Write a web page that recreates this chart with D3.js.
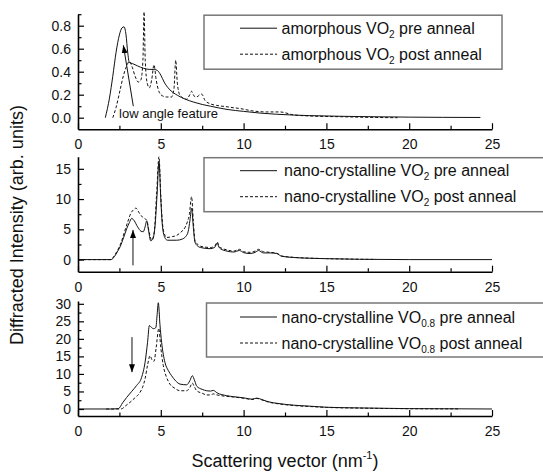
<!DOCTYPE html>
<html>
<head>
<meta charset="utf-8">
<script src="https://cdn.jsdelivr.net/npm/d3@7"></script>
<style>
  body { margin: 0; background: #fff; }
  svg { display: block; font-family: "Liberation Sans", Arial, sans-serif; }
</style>
</head>
<body>
<svg id="chart" width="543" height="473"></svg>
<script>
// scattering vector (nm^-1) vs intensity
var amorphPre = [[1.65,0],[1.9,0.17],[2.1,0.36],[2.3,0.57],[2.5,0.72],[2.65,0.78],[2.78,0.79],[2.9,0.72],[3.0,0.57],[3.1,0.48],
  [3.3,0.47],[3.6,0.45],[3.95,0.43],[4.3,0.42],[4.6,0.42],[4.8,0.41],[5.0,0.37],[5.2,0.31],[5.5,0.25],[6.0,0.195],[6.5,0.16],
  [7.0,0.135],[7.5,0.115],[8.0,0.1],[9.0,0.072],[10.0,0.055],[11.0,0.04],[12.0,0.03],[14.0,0.018],[16,0.012],[18,0.008],
  [20,0.005],[22,0.003],[24.3,0.002]]
var amorphPost = [[2.1,0],[2.3,0.09],[2.54,0.24],[2.75,0.37],[2.94,0.45],[3.1,0.49],[3.25,0.45],[3.45,0.36],[3.64,0.31],[3.8,0.33],
  [3.92,0.5],[3.99,0.92],[4.06,0.5],[4.18,0.3],[4.31,0.26],[4.45,0.33],[4.59,0.46],[4.72,0.33],[4.91,0.22],[5.1,0.19],[5.35,0.18],
  [5.65,0.18],[5.8,0.26],[5.9,0.5],[6.0,0.3],[6.16,0.195],[6.56,0.16],[6.75,0.2],[6.86,0.23],[7.0,0.19],[7.17,0.18],[7.35,0.2],
  [7.47,0.205],[7.67,0.15],[8.0,0.12],[8.37,0.107],[9.0,0.095],[9.37,0.087],[9.77,0.08],[10.5,0.06],[11.4,0.05],[12.2,0.05],
  [13,0.025],[14,0.015],[16,0.008],[18,0.002],[19.3,0]]
var nanoPre = [[0,0],[2.0,0],[2.2,0.5],[2.4,1.4],[2.54,2.1],[2.75,3.6],[2.94,5.1],[3.1,6.1],[3.24,6.8],[3.4,6.4],[3.6,5.4],[3.8,4.7],
  [3.94,4.6],[4.05,5.4],[4.15,6.4],[4.25,5.0],[4.39,3.1],[4.5,3.3],[4.65,5.5],[4.78,11],[4.89,16.2],[5.0,10],[5.1,5.5],[5.25,3.6],
  [5.4,3.2],[5.96,3.2],[6.3,3.4],[6.5,3.8],[6.65,4.6],[6.76,6.5],[6.86,8.5],[6.96,5.5],[7.06,2.9],[7.2,2.3],[7.4,2.0],[7.97,1.8],
  [8.25,2.0],[8.41,2.75],[8.5,2.1],[8.6,1.8],[9.0,1.4],[9.4,1.25],[9.75,1.5],[10.0,1.15],[10.4,1.0],[10.7,1.2],[10.9,1.5],
  [11.2,1.1],[11.6,1.1],[12.0,1.0],[12.3,0.55],[13.0,0.35],[14.0,0.22],[15,0.15],[17,0.05],[20,0],[25,0]]
var nanoPost = [[0,0],[2.0,0],[2.13,0.4],[2.4,1.6],[2.6,2.8],[2.8,4.5],[3.0,6.2],[3.2,7.7],[3.34,8.2],[3.5,8.5],[3.7,7.7],[3.9,7.0],
  [4.15,6.5],[4.3,4.5],[4.45,3.2],[4.6,4.5],[4.75,11],[4.89,17.0],[5.0,10.5],[5.1,6],[5.25,4.0],[5.35,3.65],[5.7,3.8],[5.96,4.0],
  [6.2,4.5],[6.46,5.3],[6.6,6.2],[6.72,7.4],[6.86,10.4],[6.96,6.5],[7.06,3.2],[7.17,2.7],[7.4,2.2],[8.0,2.0],[8.25,2.2],[8.41,2.9],
  [8.5,2.3],[8.6,2.0],[9.0,1.6],[9.4,1.4],[9.75,1.7],[10.0,1.3],[10.4,1.2],[10.7,1.4],[10.9,1.7],[11.2,1.3],[11.6,1.2],[12.0,1.05],
  [12.3,0.6],[13,0.38],[14,0.24],[15,0.16],[17,0.06],[18,0.03]]
var subPre = [[0,0],[2.1,0],[2.44,0.1],[2.7,1.8],[2.94,3.3],[3.24,5.0],[3.54,6.7],[3.84,9.0],[4.05,13.3],[4.2,19],[4.31,23.8],
  [4.45,23.2],[4.55,22.9],[4.7,23.2],[4.78,27],[4.85,30.3],[4.95,24],[5.05,19],[5.25,13.3],[5.45,11],[5.65,9.5],[5.9,8.0],[6.16,7.1],
  [6.56,6.9],[6.76,8.1],[6.9,9.5],[7.05,8.0],[7.17,6.5],[7.5,5.6],[7.77,5.2],[8.0,5.1],[8.17,5.3],[8.4,4.6],[8.98,3.8],[9.4,3.5],
  [9.78,3.3],[10.1,3.1],[10.5,2.8],[10.8,3.1],[11.1,2.7],[11.4,2.2],[12.2,1.5],[13,1.1],[14,0.8],[15,0.5],[17,0.3],[20,0.1],
  [23,0.05],[25,0]]
var subPost = [[1.7,0],[2.6,0],[2.9,1.0],[3.14,1.9],[3.44,3.2],[3.74,4.7],[3.9,6.2],[4.05,8.6],[4.2,12.5],[4.35,15.2],[4.47,14.0],
  [4.59,13.6],[4.72,17.5],[4.88,23.0],[5.0,17.5],[5.15,12.4],[5.35,9.0],[5.55,7.1],[5.85,5.9],[6.16,5.2],[6.56,5.2],[6.76,6.2],
  [6.9,7.4],[7.03,6.3],[7.17,5.2],[7.5,4.5],[7.77,4.0],[8.0,4.0],[8.17,4.3],[8.4,4.0],[8.98,3.6],[9.4,3.4],[9.78,3.2],[10.1,3.0],
  [10.5,2.7],[10.8,3.0],[11.1,2.6],[11.4,2.1],[12.2,1.4],[13,1.0],[14,0.7],[15,0.45],[17,0.25],[20,0.08],[23,0.03]]

var xMajor = [0, 5, 10, 15, 20, 25]
var xMinor = [2.5, 7.5, 12.5, 17.5, 22.5]
var yDomains = [[-0.1, 0.9], [-2, 17], [-2, 30.8]]
var yMajor = [[0, 0.2, 0.4, 0.6, 0.8], [0, 5, 10, 15], [0, 5, 10, 15, 20, 25, 30]]
var yMinor = [[0.1, 0.3, 0.5, 0.7, 0.9], [2.5, 7.5, 12.5], [2.5, 7.5, 12.5, 17.5, 22.5, 27.5]]
var yFormats = ['.1f', 'd', 'd']
var materials = [['amorphous VO', '2'], ['nano-crystalline VO', '2'], ['nano-crystalline VO', '0.8']]
var states = [' pre anneal', ' post anneal']
// arrows in data units: [x1, y1, x2, y2], head at the second point
var arrows = [[3.34, 0.1, 2.74, 0.63], [3.32, -0.95, 3.32, 4.9], [3.26, 20.5, 3.26, 10.5]]

var series = [[amorphPre, amorphPost], [nanoPre, nanoPost], [subPre, subPost]]
var tops = [14.2, 156.7, 301], ph = 115

var svg = d3.select('#chart')
var x = d3.scaleLinear().domain([0, 25]).range([78, 492])

svg.append('defs').append('marker')
  .attr('id', 'head').attr('markerUnits', 'userSpaceOnUse')
  .attr('markerWidth', 9).attr('markerHeight', 6)
  .attr('refX', 8).attr('refY', 3).attr('orient', 'auto')
  .append('path').attr('d', 'M0,0L8,3L0,6Z').attr('fill', '#000')

series.forEach(function (pair, i) {
  var y = d3.scaleLinear().domain(yDomains[i]).range([tops[i] + ph, tops[i]])
  var g = svg.append('g')

  var line = d3.line().x(function (d) { return x(d[0]) }).y(function (d) { return y(d[1]) })
    .curve(d3.curveMonotoneX)

  pair.forEach(function (s, j) {
    g.append('path').datum(s).attr('d', line)
      .attr('fill', 'none').attr('stroke', '#111').attr('stroke-width', 1)
      .attr('stroke-dasharray', j ? '3,2' : null)
  })

  // axes, ticks pointing in
  var xa = g.append('g').attr('transform', 'translate(0,' + (tops[i] + ph) + ')')
    .call(d3.axisBottom(x).tickValues(xMajor).tickSizeInner(-6).tickSizeOuter(0).tickPadding(10))
  g.append('g').attr('transform', 'translate(0,' + (tops[i] + ph) + ')')
    .call(d3.axisBottom(x).tickValues(xMinor).tickSize(-3.5).tickFormat(''))
    .select('.domain').remove()
  var ya = g.append('g').attr('transform', 'translate(' + x(0) + ',0)')
    .call(d3.axisLeft(y).tickValues(yMajor[i]).tickSizeInner(-6).tickSizeOuter(0).tickPadding(7)
      .tickFormat(d3.format(yFormats[i])))
  g.append('g').attr('transform', 'translate(' + x(0) + ',0)')
    .call(d3.axisLeft(y).tickValues(yMinor[i]).tickSize(-3.5).tickFormat(''))
    .select('.domain').remove()

  g.selectAll('.domain').attr('stroke-width', 1.6)
  g.selectAll('.tick line').attr('stroke-width', 1.2)
  g.selectAll('.tick text').attr('font-size', 14).attr('font-family', null).attr('fill', '#111')

  // arrow
  var a = arrows[i]
  g.append('line')
    .attr('x1', x(a[0])).attr('y1', y(a[1])).attr('x2', x(a[2])).attr('y2', y(a[3]))
    .attr('stroke', '#111').attr('stroke-width', 1).attr('marker-end', 'url(#head)')

  if (i == 0) {
    g.append('text').attr('x', x(2.48)).attr('y', y(0) + 0.5)
      .attr('font-size', 13).attr('fill', '#111').text('low angle feature')
  }

  // legend
  var lg = g.append('g').attr('transform', 'translate(0,' + tops[i] + ')')
  lg.append('rect').attr('x', i == 2 ? 206.5 : 204).attr('y', i == 2 ? 2 : 1)
    .attr('width', i == 0 ? 298 : 360).attr('height', 54)
    .attr('fill', '#fff').attr('stroke', '#777').attr('stroke-width', 1.5)
  states.forEach(function (st, j) {
    var ry = (i == 2 ? 16 : 14) + j * 26
    lg.append('line').attr('x1', 240).attr('x2', 277).attr('y1', ry).attr('y2', ry)
      .attr('stroke', '#111').attr('stroke-width', 1).attr('stroke-dasharray', j ? '3,2' : null)
    var t = lg.append('text').attr('x', i == 1 ? 284 : 281.5).attr('y', ry + 5.5)
      .attr('font-size', 16).attr('fill', '#111')
    t.append('tspan').text(materials[i][0])
    t.append('tspan').attr('font-size', 10).attr('dy', 4).text(materials[i][1])
    t.append('tspan').attr('dy', -4).text(st)
  })
})

// axis titles
var xt = svg.append('text').attr('x', 285).attr('y', 467).attr('text-anchor', 'middle')
  .attr('font-size', 18).attr('fill', '#111')
xt.append('tspan').text('Scattering vector (nm')
xt.append('tspan').attr('font-size', 11).attr('dy', -8).text('-1')
xt.append('tspan').attr('dy', 8).text(')')

svg.append('text').attr('transform', 'translate(23,225) rotate(-90)')
  .attr('text-anchor', 'middle').attr('font-size', 18).attr('fill', '#111')
  .text('Diffracted Intensity (arb. units)')
</script>
</body>
</html>
